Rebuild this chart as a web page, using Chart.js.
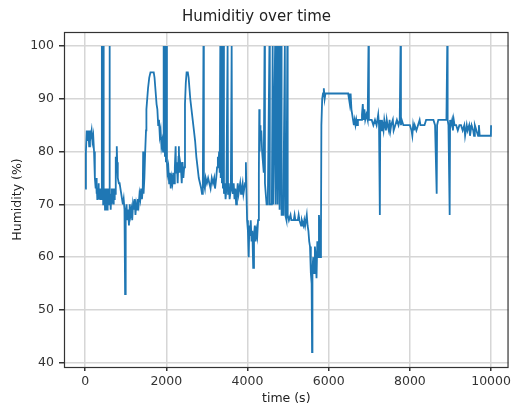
<!DOCTYPE html>
<html>
<head>
<meta charset="utf-8">
<script src="https://cdn.jsdelivr.net/npm/chart.js@4"></script>
<style>
  html, body { margin: 0; padding: 0; background: #fff; }
  #wrap { width: 514px; height: 406px; }
</style>
</head>
<body>
<div id="wrap"><canvas id="humChart" width="514" height="406"></canvas></div>
<script>
// values (time in s, humidity in %)
const times = [
  0, 20, 40, 60, 80, 100, 120, 140, 160, 180, 200, 220, 240, 250, 260, 270, 280, 290, 300, 310,
  320, 330, 340, 350, 360, 370, 380, 390, 400, 410, 415, 425, 430, 440, 445, 455, 460, 470, 480, 490,
  500, 510, 520, 530, 540, 550, 560, 570, 580, 590, 600, 610, 620, 630, 640, 650, 660, 670, 680, 690,
  700, 710, 720, 730, 740, 750, 760, 770, 780, 790, 800, 810, 830, 850, 870, 890, 910, 930, 950, 970,
  985, 995, 1005, 1020, 1040, 1060, 1080, 1100, 1120, 1140, 1160, 1180, 1200, 1220, 1240, 1260, 1280, 1300, 1320, 1340,
  1360, 1380, 1400, 1420, 1430, 1440, 1460, 1480, 1500, 1510, 1530, 1550, 1580, 1610, 1650, 1690, 1710, 1730, 1760, 1780,
  1800, 1820, 1840, 1860, 1880, 1900, 1920, 1930, 1940, 1955, 1965, 1980, 1990, 2005, 2015, 2030, 2050, 2070, 2090, 2110,
  2130, 2150, 2170, 2190, 2210, 2230, 2240, 2260, 2280, 2300, 2310, 2320, 2340, 2360, 2380, 2400, 2420, 2440, 2460, 2480,
  2500, 2530, 2550, 2570, 2590, 2620, 2650, 2680, 2710, 2740, 2770, 2800, 2830, 2860, 2880, 2900, 2915, 2925, 2950, 2970,
  3000, 3030, 3060, 3090, 3120, 3150, 3180, 3200, 3230, 3250, 3270, 3290, 3300, 3315, 3330, 3340, 3360, 3370, 3385, 3395,
  3410, 3420, 3440, 3460, 3480, 3510, 3520, 3540, 3560, 3590, 3610, 3620, 3640, 3660, 3680, 3700, 3720, 3740, 3760, 3780,
  3800, 3820, 3840, 3860, 3880, 3900, 3920, 3940, 3960, 3975, 3990, 4010, 4030, 4045, 4060, 4080, 4100, 4120, 4140, 4160,
  4180, 4200, 4220, 4240, 4260, 4280, 4290, 4300, 4310, 4320, 4340, 4360, 4380, 4400, 4420, 4430, 4450, 4470, 4500, 4540,
  4550, 4600, 4620, 4630, 4680, 4690, 4730, 4740, 4780, 4790, 4830, 4840, 4880, 4920, 4930, 4960, 4980, 4990, 5020, 5060,
  5080, 5140, 5160, 5180, 5240, 5260, 5280, 5320, 5340, 5380, 5400, 5420, 5460, 5480, 5500, 5520, 5540, 5560, 5580, 5590,
  5600, 5620, 5640, 5660, 5680, 5700, 5720, 5740, 5760, 5780, 5790, 5810, 5820, 5840, 5860, 5880, 5900, 5920, 5960, 6000,
  6100, 6200, 6300, 6400, 6480, 6500, 6520, 6540, 6560, 6580, 6600, 6620, 6640, 6660, 6680, 6700, 6720, 6760, 6800, 6820,
  6840, 6860, 6880, 6900, 6930, 6960, 6980, 6990, 7020, 7060, 7100, 7140, 7180, 7200, 7220, 7240, 7260, 7270, 7290, 7310,
  7330, 7350, 7370, 7390, 7410, 7430, 7450, 7480, 7500, 7520, 7540, 7580, 7600, 7640, 7680, 7720, 7750, 7770, 7780, 7800,
  7840, 7900, 7960, 8000, 8040, 8060, 8080, 8100, 8120, 8160, 8200, 8240, 8260, 8300, 8360, 8400, 8440, 8500, 8540, 8580,
  8620, 8660, 8670, 8700, 8760, 8800, 8850, 8900, 8920, 8930, 8950, 8980, 8990, 9010, 9040, 9060, 9080, 9100, 9140, 9180,
  9220, 9260, 9300, 9340, 9360, 9400, 9420, 9460, 9480, 9520, 9560, 9580, 9600, 9640, 9680, 9700, 9720, 9760, 9800, 9850,
  9900, 9950, 9995, 10000
];
const humidity = [
  73, 80, 84, 82, 84, 81, 84, 83, 84, 82, 83, 80, 75, 74, 73, 75, 72, 74, 71, 73,
  72, 74, 71, 73, 72, 71, 73, 72, 71, 100, 71, 100, 72, 100, 70, 100, 72, 70, 73, 69,
  72, 70, 73, 71, 69, 72, 70, 73, 71, 70, 100, 70, 72, 69, 71, 73, 70, 72, 71, 73,
  70, 72, 71, 73, 72, 75, 79, 77, 81, 78, 76, 75, 74, 74, 73, 72, 71, 70, 71, 69,
  53, 69, 68, 70, 67, 69, 66, 70, 68, 69, 67, 70, 69, 71, 68, 70, 69, 71, 70, 72,
  71, 73, 71, 73, 80, 72, 75, 80, 84, 88, 90, 92, 94, 95, 95, 95, 94, 92, 89, 88,
  85, 86, 83, 84, 81, 82, 80, 100, 80, 100, 79, 100, 78, 100, 78, 76, 77, 74, 76, 73,
  75, 74, 76, 74, 77, 81, 76, 78, 74, 79, 81, 76, 78, 77, 74, 78, 75, 77, 89, 93,
  95, 95, 94, 92, 90, 88, 86, 84, 82, 79, 77, 75, 74, 73, 72, 74, 100, 74, 73, 75,
  74, 75, 74, 73, 75, 74, 75, 73, 75, 77, 79, 78, 80, 76, 100, 75, 100, 74, 100, 73,
  100, 72, 74, 71, 73, 100, 72, 74, 71, 73, 100, 73, 72, 74, 71, 73, 70, 72, 74, 72,
  73, 74, 72, 73, 74, 72, 73, 74, 78, 72, 67, 65, 60, 66, 64, 67, 63, 65, 58, 64,
  66, 63, 65, 64, 67, 76, 88, 80, 85, 82, 84, 80, 78, 76, 100, 74, 72, 70, 70, 100,
  70, 70, 100, 70, 100, 70, 100, 70, 100, 69, 100, 68, 68, 100, 68, 67, 100, 68, 67, 68,
  67, 67, 68, 67, 67, 68, 67, 66, 67, 66, 67, 66, 68, 66, 65, 63, 62, 57, 55, 42,
  58, 60, 57, 62, 60, 56, 63, 60, 68, 65, 60, 65, 85, 90, 91, 92, 90, 91, 91, 91,
  91, 91, 91, 91, 91, 90, 89, 91, 88, 87, 86, 85, 86, 85, 86, 85, 86, 86, 86, 87,
  89, 86, 88, 86, 87, 86, 100, 86, 86, 86, 85, 86, 85, 86, 87, 85, 68, 86, 84, 86,
  85, 84, 86, 85, 84, 86, 85, 84, 86, 84, 85, 86, 84, 85, 86, 85, 86, 100, 85, 86,
  85, 85, 85, 85, 84, 83, 85, 84, 85, 84, 85, 86, 85, 85, 85, 86, 86, 86, 86, 86,
  85, 72, 85, 86, 86, 86, 86, 86, 100, 86, 85, 68, 86, 85, 86, 84, 86, 85, 85, 84,
  85, 85, 84, 85, 83, 85, 84, 85, 83, 85, 84, 83, 85, 84, 83, 85, 83, 83, 83, 83,
  83, 83, 83, 85
];
const xTicks = [0, 2000, 4000, 6000, 8000, 10000];
const yTicks = [40, 50, 60, 70, 80, 90, 100];

const points = times.map((t, i) => ({ x: t, y: humidity[i] }));

// matplotlib-like frame on all four sides
const frame = {
  id: 'frame',
  afterDraw(chart) {
    const a = chart.chartArea, c = chart.ctx;
    c.save();
    c.strokeStyle = '#333';
    c.lineWidth = 1.2;
    c.strokeRect(a.left + 0.5, a.top + 0.5, a.right - a.left - 1, a.bottom - a.top);
    c.restore();
  }
};

const font = { family: 'DejaVu Sans', size: 12.5 };

new Chart(document.getElementById('humChart').getContext('2d'), {
  type: 'line',
  data: {
    datasets: [{
      data: points,
      borderColor: '#1f77b4',
      borderWidth: 1.8,
      pointRadius: 0,
      tension: 0,
      fill: false
    }]
  },
  options: {
    responsive: false,
    animation: false,
    layout: { padding: { left: 0, right: 1, top: 0, bottom: 0 } },
    plugins: {
      legend: { display: false },
      tooltip: { enabled: false },
      title: {
        display: true,
        text: 'Humiditiy over time',
        color: '#222',
        font: { family: 'DejaVu Sans', size: 15, weight: 'normal' },
        padding: { top: 8, bottom: 6 }
      }
    },
    scales: {
      x: {
        type: 'linear',
        min: -520,
        max: 10430,
        afterBuildTicks: s => { s.ticks = xTicks.map(v => ({ value: v })); },
        afterFit: s => { s.height = 39; },
        ticks: { color: '#333', font: font, padding: 3, maxRotation: 0, callback: v => String(v) },
        grid: { color: '#d6d6d6', lineWidth: 1.5, tickLength: 4, tickColor: '#333' },
        border: { display: false },
        title: { display: true, text: 'time (s)', color: '#222', font: font, padding: { top: 0, bottom: 0 } }
      },
      y: {
        min: 39.2,
        max: 102.65,
        afterBuildTicks: s => { s.ticks = yTicks.map(v => ({ value: v })); },
        afterFit: s => { s.width = 64; },
        ticks: { color: '#333', font: font, padding: 5 },
        grid: { color: '#d6d6d6', lineWidth: 1.5, tickLength: 5, tickColor: '#333' },
        border: { display: false },
        title: { display: true, text: 'Humidity (%)', color: '#222', font: font, padding: { top: 10, bottom: 0 } }
      }
    }
  },
  plugins: [frame]
});
</script>
</body>
</html>
